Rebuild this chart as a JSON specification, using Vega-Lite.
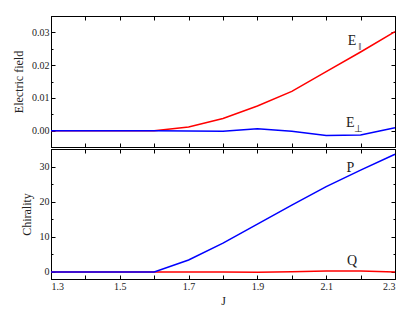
{
  "$schema": "https://vega.github.io/schema/vega-lite/v6.json",
  "autosize": {"type": "pad"},
  "padding": {"left": 12, "top": 15, "right": 0, "bottom": 0},
  "spacing": 0,
  "config": {
    "font": "Liberation Serif",
    "view": {"stroke": "black", "strokeWidth": 1},
    "axis": {
      "grid": false,
      "domainColor": "black",
      "tickColor": "black",
      "labelColor": "#222",
      "labelFont": "Liberation Serif",
      "labelFontSize": 10,
      "titleFont": "Liberation Serif",
      "titleFontSize": 12,
      "titleFontWeight": "normal",
      "titleColor": "#222"
    }
  },
  "datasets": {
    "efield": [
      {"J": 1.3, "series": "Epar", "value": 0},
      {"J": 1.4, "series": "Epar", "value": 0},
      {"J": 1.5, "series": "Epar", "value": 0},
      {"J": 1.6, "series": "Epar", "value": 0},
      {"J": 1.7, "series": "Epar", "value": 0.0011},
      {"J": 1.8, "series": "Epar", "value": 0.0037},
      {"J": 1.9, "series": "Epar", "value": 0.0075},
      {"J": 2.0, "series": "Epar", "value": 0.012},
      {"J": 2.1, "series": "Epar", "value": 0.018},
      {"J": 2.2, "series": "Epar", "value": 0.024},
      {"J": 2.3, "series": "Epar", "value": 0.0302},
      {"J": 1.3, "series": "Eperp", "value": 0},
      {"J": 1.4, "series": "Eperp", "value": 0},
      {"J": 1.5, "series": "Eperp", "value": 0},
      {"J": 1.6, "series": "Eperp", "value": 0},
      {"J": 1.7, "series": "Eperp", "value": -0.0001},
      {"J": 1.8, "series": "Eperp", "value": -0.0002},
      {"J": 1.9, "series": "Eperp", "value": 0.0006},
      {"J": 2.0, "series": "Eperp", "value": -0.0002},
      {"J": 2.1, "series": "Eperp", "value": -0.0015},
      {"J": 2.2, "series": "Eperp", "value": -0.0013},
      {"J": 2.3, "series": "Eperp", "value": 0.0009}
    ],
    "chir": [
      {"J": 1.3, "series": "Q", "value": 0},
      {"J": 1.4, "series": "Q", "value": 0},
      {"J": 1.5, "series": "Q", "value": 0},
      {"J": 1.6, "series": "Q", "value": 0},
      {"J": 1.7, "series": "Q", "value": 0},
      {"J": 1.8, "series": "Q", "value": 0},
      {"J": 1.9, "series": "Q", "value": -0.1},
      {"J": 2.0, "series": "Q", "value": 0.05},
      {"J": 2.1, "series": "Q", "value": 0.3},
      {"J": 2.2, "series": "Q", "value": 0.25},
      {"J": 2.3, "series": "Q", "value": 0},
      {"J": 1.3, "series": "P", "value": 0},
      {"J": 1.4, "series": "P", "value": 0},
      {"J": 1.5, "series": "P", "value": 0},
      {"J": 1.6, "series": "P", "value": 0},
      {"J": 1.7, "series": "P", "value": 3.4},
      {"J": 1.8, "series": "P", "value": 8.2},
      {"J": 1.9, "series": "P", "value": 13.6},
      {"J": 2.0, "series": "P", "value": 19.0},
      {"J": 2.1, "series": "P", "value": 24.3},
      {"J": 2.2, "series": "P", "value": 29.0},
      {"J": 2.3, "series": "P", "value": 33.5}
    ],
    "elabels": [
      {"J": 2.175, "value": 0.0275, "main": "E", "sub": "‖"},
      {"J": 2.17, "value": 0.0024, "main": "E", "sub": "⊥"}
    ],
    "clabels": [
      {"J": 2.17, "value": 29.6, "main": "P"},
      {"J": 2.175, "value": 3.1, "main": "Q"}
    ]
  },
  "vconcat": [
    {
      "width": 344,
      "height": 131,
      "resolve": {"axis": {"x": "independent", "y": "independent"}},
      "layer": [
        {
          "data": {"name": "efield"},
          "mark": {"type": "line", "strokeWidth": 1.5},
          "encoding": {
            "x": {"field": "J", "type": "quantitative",
                  "scale": {"domain": [1.3, 2.3], "nice": false, "zero": false},
                  "axis": {"orient": "bottom", "title": null, "labels": false, "tickSize": -4,
                           "values": [1.3,1.4,1.5,1.6,1.7,1.8,1.9,2.0,2.1,2.2,2.3]}},
            "y": {"field": "value", "type": "quantitative",
                  "scale": {"domain": [-0.005, 0.035], "nice": false, "zero": false},
                  "axis": {"orient": "left", "title": "Electric field", "format": ".2f",
                           "values": [0, 0.005, 0.01, 0.015, 0.02, 0.025, 0.03],
                           "labelExpr": "abs(datum.value*100 - round(datum.value*100)) < 0.001 ? datum.label : ''",
                           "tickSize": {"condition": {"test": "abs(datum.value*100 - round(datum.value*100)) < 0.001", "value": -4}, "value": -2},
                           "labelPadding": 6, "titlePadding": 6}},
            "color": {"field": "series", "type": "nominal",
                      "scale": {"domain": ["Epar", "Eperp", "P", "Q"], "range": ["#ff0000", "#0000ff", "#0000ff", "#ff0000"]},
                      "legend": null}
          }
        },
        {
          "data": {"name": "elabels"},
          "mark": {"type": "text", "fontSize": 14, "font": "Liberation Serif", "color": "#222"},
          "encoding": {
            "x": {"field": "J", "type": "quantitative",
                  "axis": {"orient": "top", "title": null, "labels": false, "tickSize": -4,
                           "values": [1.3,1.4,1.5,1.6,1.7,1.8,1.9,2.0,2.1,2.2,2.3]}},
            "y": {"field": "value", "type": "quantitative",
                  "axis": {"orient": "right", "title": null, "labels": false,
                           "values": [0, 0.005, 0.01, 0.015, 0.02, 0.025, 0.03],
                           "tickSize": {"condition": {"test": "abs(datum.value*100 - round(datum.value*100)) < 0.001", "value": -4}, "value": -2}}},
            "text": {"field": "main"}
          }
        },
        {
          "data": {"name": "elabels"},
          "mark": {"type": "text", "fontSize": 10, "font": "Liberation Serif", "color": "#222", "dx": 8, "dy": 6},
          "encoding": {
            "x": {"field": "J", "type": "quantitative", "axis": null},
            "y": {"field": "value", "type": "quantitative", "axis": null},
            "text": {"field": "sub"}
          }
        }
      ]
    },
    {
      "width": 344,
      "height": 130,
      "resolve": {"axis": {"x": "independent", "y": "independent"}},
      "layer": [
        {
          "data": {"name": "chir"},
          "mark": {"type": "line", "strokeWidth": 1.5},
          "encoding": {
            "x": {"field": "J", "type": "quantitative",
                  "scale": {"domain": [1.3, 2.3], "nice": false, "zero": false},
                  "axis": {"orient": "bottom", "title": "J", "format": ".1f", "tickSize": -4,
                           "values": [1.3,1.4,1.5,1.6,1.7,1.8,1.9,2.0,2.1,2.2,2.3],
                           "labelExpr": "round(datum.value*10) % 2 == 1 ? datum.label : ''",
                           "labelPadding": 6, "titlePadding": 4}},
            "y": {"field": "value", "type": "quantitative",
                  "scale": {"domain": [-2, 35], "nice": false, "zero": false},
                  "axis": {"orient": "left", "title": "Chirality",
                           "values": [0, 5, 10, 15, 20, 25, 30],
                           "labelExpr": "datum.value % 10 == 0 ? datum.label : ''",
                           "tickSize": {"condition": {"test": "datum.value % 10 == 0", "value": -4}, "value": -2},
                           "labelPadding": 6, "titlePadding": 6}},
            "color": {"field": "series", "type": "nominal",
                      "scale": {"domain": ["Epar", "Eperp", "P", "Q"], "range": ["#ff0000", "#0000ff", "#0000ff", "#ff0000"]},
                      "legend": null}
          }
        },
        {
          "data": {"name": "clabels"},
          "mark": {"type": "text", "fontSize": 14, "font": "Liberation Serif", "color": "#222"},
          "encoding": {
            "x": {"field": "J", "type": "quantitative",
                  "axis": {"orient": "top", "title": null, "labels": false, "tickSize": -4,
                           "values": [1.3,1.4,1.5,1.6,1.7,1.8,1.9,2.0,2.1,2.2,2.3]}},
            "y": {"field": "value", "type": "quantitative",
                  "axis": {"orient": "right", "title": null, "labels": false,
                           "values": [0, 5, 10, 15, 20, 25, 30],
                           "tickSize": {"condition": {"test": "datum.value % 10 == 0", "value": -4}, "value": -2}}},
            "text": {"field": "main"}
          }
        }
      ]
    }
  ]
}
